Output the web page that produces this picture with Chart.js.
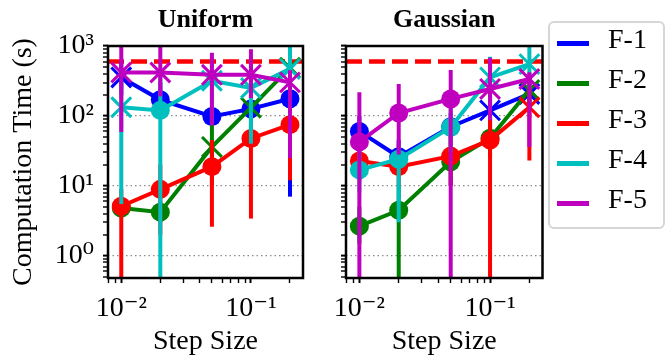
<!DOCTYPE html>
<html>
<head>
<meta charset="utf-8">
<script src="https://cdn.jsdelivr.net/npm/chart.js@4.4.1/dist/chart.umd.min.js"></script>
<style>
  html, body { margin: 0; padding: 0; background: #fff; }
  #wrap { position: relative; width: 665px; height: 356px; overflow: hidden; }
  canvas { position: absolute; top: 0; }
  #uni { left: 0; }
  #gau { left: 320px; }
  #legend { position: absolute; left: 548px; top: 21px; width: 117px; height: 208px;
            border: 2px solid #d6d6d6; border-radius: 6px; box-sizing: border-box; background: #fff; }
  .row { position: absolute; left: 0; width: 110px; height: 40px; }
  .swatch { position: absolute; left: 7px; top: 18px; width: 32px; height: 4.5px; }
  .name { position: absolute; left: 58px; top: 0; line-height: 40px; font: 28px "Liberation Serif", serif; color: #000; }
</style>
</head>
<body>
<div id="wrap">
  <canvas id="uni" width="320" height="356"></canvas>
  <canvas id="gau" width="240" height="356"></canvas>
  <div id="legend"></div>
</div>
<script>
// ---------------- data ----------------
const steps = [0.01, 0.02, 0.05, 0.1, 0.2];
const names = ['F-1', 'F-2', 'F-3', 'F-4', 'F-5'];
const colors = ['#0000ff', '#008000', '#ff0000', '#00bfbf', '#bf00bf'];
const timeLimit = 600;

// Uniform: mean time, lower / upper whisker, marker ('o' = circle, 'x' = cross)
const uniF1 = [355, 170, 98, 126, 176];
const uniF1Lo = [200, 100, 75, 90, 7];
const uniF1Hi = [600, 300, 130, 180, 400];
const uniF1Mark = ['x', 'o', 'o', 'o', 'o'];
const uniF2 = [4.8, 4.2, 36, 131, 490];
const uniF2Lo = [3.5, 3, 10, 60, 200];
const uniF2Hi = [6.5, 6, 75, 250, 900];
const uniF2Mark = ['o', 'o', 'x', 'x', 'x'];
const uniF3 = [5.1, 8.9, 18.8, 47.6, 75];
const uniF3Lo = [0.1, 2, 2.6, 3.4, 12];
const uniF3Hi = [9, 20, 45, 80, 130];
const uniF3Mark = ['o', 'o', 'o', 'o', 'o'];
const uniF4 = [133, 120, 318, 251, 470];
const uniF4Lo = [5.5, 0.1, 80, 40, 150];
const uniF4Hi = [300, 400, 700, 700, 2000];
const uniF4Mark = ['x', 'o', 'x', 'x', 'x'];
const uniF5 = [418, 418, 387, 387, 302];
const uniF5Lo = [59, 190, 73, 180, 25];
const uniF5Hi = [2000, 2000, 800, 900, 450];
const uniF5Mark = ['x', 'x', 'x', 'x', 'x'];

// Gaussian
const gauF1 = [60, 26, 70, 120, 206];
const gauF1Lo = [35, 15, 40, 70, 120];
const gauF1Hi = [100, 45, 110, 200, 300];
const gauF1Mark = ['o', 'o', 'o', 'x', 'x'];
const gauF2 = [2.65, 4.47, 22, 48, 235];
const gauF2Lo = [1.5, 0.1, 10, 25, 120];
const gauF2Hi = [5, 10, 40, 90, 400];
const gauF2Mark = ['o', 'o', 'o', 'o', 'x'];
const gauF3 = [22.6, 18.8, 26.6, 45, 133];
const gauF3Lo = [12, 10, 10, 0.1, 23];
const gauF3Hi = [35, 30, 60, 120, 350];
const gauF3Mark = ['o', 'o', 'o', 'o', 'x'];
const gauF4 = [16.9, 24, 69, 355, 550];
const gauF4Lo = [8, 3, 30, 120, 250];
const gauF4Hi = [30, 40, 150, 700, 2000];
const gauF4Mark = ['o', 'o', 'o', 'x', 'x'];
const gauF5 = [42.5, 110, 175, 243, 337];
const gauF5Lo = [0.1, 28, 0.1, 87, 36];
const gauF5Hi = [218, 287, 452, 680, 420];
const gauF5Mark = ['o', 'o', 'o', 'x', 'x'];

const xMin = 0.0079, xMax = 0.252;
const yMin = 0.48, yMax = 1000;

// ---------------- helpers ----------------
const serif = '"Liberation Serif", "DejaVu Serif", serif';
const sup = {'-': '\u207B', '0': '\u2070', '1': '\u00B9', '2': '\u00B2', '3': '\u00B3'};

function isDecade(v) {
  const e = Math.round(Math.log10(v));
  return Math.abs(v - Math.pow(10, e)) < 1e-9 * v;
}
function powLabel(v) {
  const e = String(Math.round(Math.log10(v)));
  return '10' + e.split('').map(c => sup[c]).join('');
}
function logTicks(scale) {
  const out = [];
  const lo = Math.floor(Math.log10(scale.min)), hi = Math.ceil(Math.log10(scale.max));
  for (let e = lo; e <= hi; e++) {
    for (let m = 1; m <= 9; m++) {
      const v = +(m * Math.pow(10, e)).toPrecision(6);
      if (v >= scale.min * 0.9999 && v <= scale.max * 1.0001) out.push({value: v});
    }
  }
  scale.ticks = out;
}

function buildDatasets(series) {
  const sets = [{
    data: [{x: xMin, y: timeLimit}, {x: xMax, y: timeLimit}],
    borderColor: '#ff0000', borderWidth: 4.5, borderDash: [16, 7],
    pointRadius: 0, order: 100
  }];
  series.forEach((s, i) => {
    const col = colors[i];
    steps.forEach((x, j) => {
      sets.push({
        data: [{x: x, y: s.lo[j]}, {x: x, y: s.hi[j]}],
        borderColor: col, borderWidth: 4, pointRadius: 0,
        order: 50 - 10 * i + 5
      });
    });
    sets.push({
      label: names[i],
      data: steps.map((x, j) => ({x: x, y: s.mean[j]})),
      borderColor: col, backgroundColor: col, borderWidth: 4,
      pointStyle: s.mark.map(m => m === 'x' ? 'crossRot' : 'circle'),
      pointRadius: s.mark.map(m => m === 'x' ? 14 : 9.5),
      pointBorderWidth: s.mark.map(m => m === 'x' ? 3 : 0),
      pointBackgroundColor: col, pointBorderColor: col,
      order: 50 - 10 * i
    });
  });
  return sets;
}

const frame = {
  id: 'frame',
  afterDraw(chart) {
    const a = chart.chartArea, c = chart.ctx;
    c.save();
    c.lineWidth = 2.5;
    c.strokeStyle = '#000';
    c.strokeRect(a.left, a.top, a.right - a.left, a.bottom - a.top);
    c.restore();
  }
};

function panel(id, title, series, yLabels, yWidth, rightPad) {
  const tickW = ctx => (ctx.tick && isDecade(ctx.tick.value)) ? 2 : 1.4;
  return new Chart(document.getElementById(id), {
    type: 'line',
    data: {datasets: buildDatasets(series)},
    plugins: [frame],
    options: {
      responsive: false,
      animation: false,
      devicePixelRatio: 1,
      events: [],
      layout: {padding: {left: 0, right: rightPad, top: 0, bottom: 0}},
      plugins: {
        legend: {display: false},
        tooltip: {enabled: false},
        title: {
          display: true, text: title, color: '#000', fullSize: false,
          font: {family: serif, size: 26, weight: 'bold', lineHeight: 1.2},
          padding: {top: 5, bottom: 9.8}
        }
      },
      scales: {
        x: {
          type: 'logarithmic', min: xMin, max: xMax,
          afterBuildTicks: logTicks,
          afterFit: s => { s.height = 78; },
          border: {display: false},
          grid: {drawOnChartArea: false, tickLength: 5, tickColor: '#000', tickWidth: tickW},
          ticks: {
            autoSkip: false, maxRotation: 0, minRotation: 0, padding: 9, color: '#000',
            font: {family: serif, size: 28, lineHeight: 1.2},
            callback: v => isDecade(v) ? powLabel(v) : ''
          },
          title: {
            display: true, text: 'Step Size', color: '#000',
            font: {family: serif, size: 28, lineHeight: 1}, padding: {top: 0, bottom: 0}
          }
        },
        y: {
          type: 'logarithmic', min: yMin, max: yMax,
          afterBuildTicks: logTicks,
          afterFit: s => { s.width = yWidth; },
          border: {display: false, dash: [1.5, 3]},
          grid: {
            borderDash: [1.5, 3],
            color: ctx => (ctx.tick && isDecade(ctx.tick.value)) ? '#8c8c8c' : 'rgba(0,0,0,0)',
            lineWidth: ctx => (ctx.tick && isDecade(ctx.tick.value)) ? 1.2 : 0,
            tickLength: 5, tickColor: '#000', tickWidth: tickW
          },
          ticks: {
            autoSkip: false, padding: 9, color: '#000',
            font: {family: serif, size: 28, lineHeight: 1.2},
            callback: v => (yLabels && isDecade(v)) ? powLabel(v) : ''
          },
          title: {
            display: yLabels, text: 'Computation Time (s)', color: '#000',
            font: {family: serif, size: 28, lineHeight: 1.2}, padding: {top: 7, bottom: 0}
          }
        }
      }
    }
  });
}

const uniSeries = [
  {mean: uniF1, lo: uniF1Lo, hi: uniF1Hi, mark: uniF1Mark},
  {mean: uniF2, lo: uniF2Lo, hi: uniF2Hi, mark: uniF2Mark},
  {mean: uniF3, lo: uniF3Lo, hi: uniF3Hi, mark: uniF3Mark},
  {mean: uniF4, lo: uniF4Lo, hi: uniF4Hi, mark: uniF4Mark},
  {mean: uniF5, lo: uniF5Lo, hi: uniF5Hi, mark: uniF5Mark}
];
const gauSeries = [
  {mean: gauF1, lo: gauF1Lo, hi: gauF1Hi, mark: gauF1Mark},
  {mean: gauF2, lo: gauF2Lo, hi: gauF2Hi, mark: gauF2Mark},
  {mean: gauF3, lo: gauF3Lo, hi: gauF3Hi, mark: gauF3Mark},
  {mean: gauF4, lo: gauF4Lo, hi: gauF4Hi, mark: gauF4Mark},
  {mean: gauF5, lo: gauF5Lo, hi: gauF5Hi, mark: gauF5Mark}
];

const uniChart = panel('uni', 'Uniform', uniSeries, true, 108, 13.5);
const gauChart = panel('gau', 'Gaussian', gauSeries, false, 26, 17.5);

//--------------- legend ---------------//
const legend = document.getElementById('legend');
names.forEach((n, i) => {
  const row = document.createElement('div');
  row.className = 'row';
  row.style.top = (i * 40) + 'px';
  row.innerHTML = '<div class="swatch" style="background:' + colors[i] + '"></div><div class="name">' + n + '</div>';
  legend.appendChild(row);
});
</script>
</body>
</html>
